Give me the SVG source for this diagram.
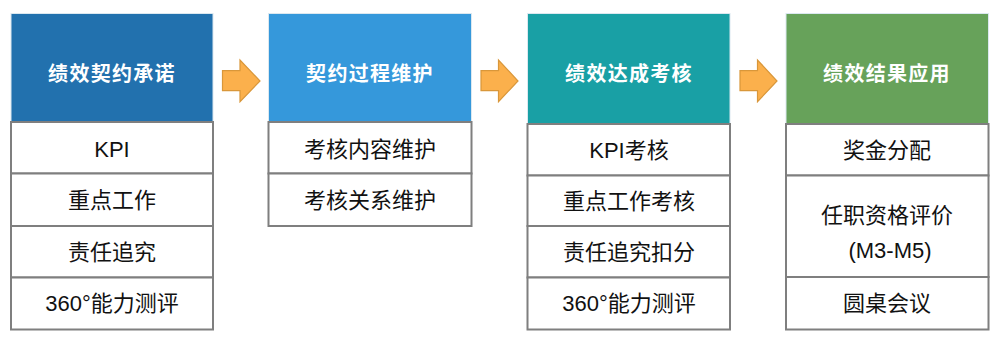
<svg xmlns="http://www.w3.org/2000/svg" width="1001" height="347" viewBox="0 0 1001 347">
<style>
.hd{stroke:#dbe8f0;stroke-width:1}
.cell{fill:#fff;stroke:#7f7f7f;stroke-width:2}
.ht{font-family:"Noto Sans CJK SC","Liberation Sans",sans-serif;font-weight:bold;font-size:20px;fill:#fff;text-anchor:middle;dominant-baseline:central;letter-spacing:1.3px}
.bt{font-family:"Liberation Sans","Noto Sans CJK SC",sans-serif;font-size:22px;fill:#111;text-anchor:middle;dominant-baseline:central}
.arr{fill:#fbb04c;stroke:#d9973a;stroke-width:1.2}
</style>
<rect width="1001" height="347" fill="#fff"/>
<g id="n1">
<rect class="hd" x="11" y="13.5" width="202" height="108.5" fill="#2271ae"/>
<text class="ht" x="112" y="72">绩效契约承诺</text>
<rect class="cell" x="11" y="122" width="202" height="51.5"/>
<rect class="cell" x="11" y="173.5" width="202" height="52.5"/>
<rect class="cell" x="11" y="226" width="202" height="51.5"/>
<rect class="cell" x="11" y="277.5" width="202" height="52"/>
<text class="bt" x="112" y="149">KPI</text>
<text class="bt" x="112" y="200">重点工作</text>
<text class="bt" x="112" y="252">责任追究</text>
<text class="bt" x="112" y="303">360°能力测评</text>
</g>
<g id="n2">
<rect class="hd" x="268.5" y="13.5" width="203" height="108.5" fill="#3598db"/>
<text class="ht" x="370" y="72">契约过程维护</text>
<rect class="cell" x="268.5" y="122" width="203" height="51.5"/>
<rect class="cell" x="268.5" y="173.5" width="203" height="52.5"/>
<text class="bt" x="370" y="149">考核内容维护</text>
<text class="bt" x="370" y="200">考核关系维护</text>
</g>
<g id="n3">
<rect class="hd" x="527.5" y="13.5" width="202.5" height="110.5" fill="#19a0a5"/>
<text class="ht" x="629" y="72">绩效达成考核</text>
<rect class="cell" x="527.5" y="124" width="202.5" height="51.5"/>
<rect class="cell" x="527.5" y="175.5" width="202.5" height="50.5"/>
<rect class="cell" x="527.5" y="226" width="202.5" height="51.5"/>
<rect class="cell" x="527.5" y="277.5" width="202.5" height="52"/>
<text class="bt" x="629" y="150">KPI考核</text>
<text class="bt" x="629" y="201">重点工作考核</text>
<text class="bt" x="629" y="252">责任追究扣分</text>
<text class="bt" x="629" y="303">360°能力测评</text>
</g>
<g id="n4">
<rect class="hd" x="786" y="13.5" width="202.5" height="110.5" fill="#67a25a"/>
<text class="ht" x="887" y="72">绩效结果应用</text>
<rect class="cell" x="786" y="124" width="202.5" height="51.5"/>
<rect class="cell" x="786" y="175.5" width="202.5" height="101.5"/>
<rect class="cell" x="786" y="277" width="202.5" height="52.5"/>
<text class="bt" x="887" y="150">奖金分配</text>
<text class="bt" x="887" y="215">任职资格评价</text>
<text class="bt" x="890" y="250">(M3-M5)</text>
<text class="bt" x="887" y="303">圆桌会议</text>
</g>
<g id="connectors">
<polygon class="arr" points="222.5,70.7 240,70.7 240,60 260,81 240,101.7 240,90.7 222.5,90.7"/>
<polygon class="arr" points="481,70.7 498.5,70.7 498.5,60 518,81 498.5,101.7 498.5,90.7 481,90.7"/>
<polygon class="arr" points="740,70.7 757.5,70.7 757.5,60 777,81 757.5,101.7 757.5,90.7 740,90.7"/>
</g>
</svg>
